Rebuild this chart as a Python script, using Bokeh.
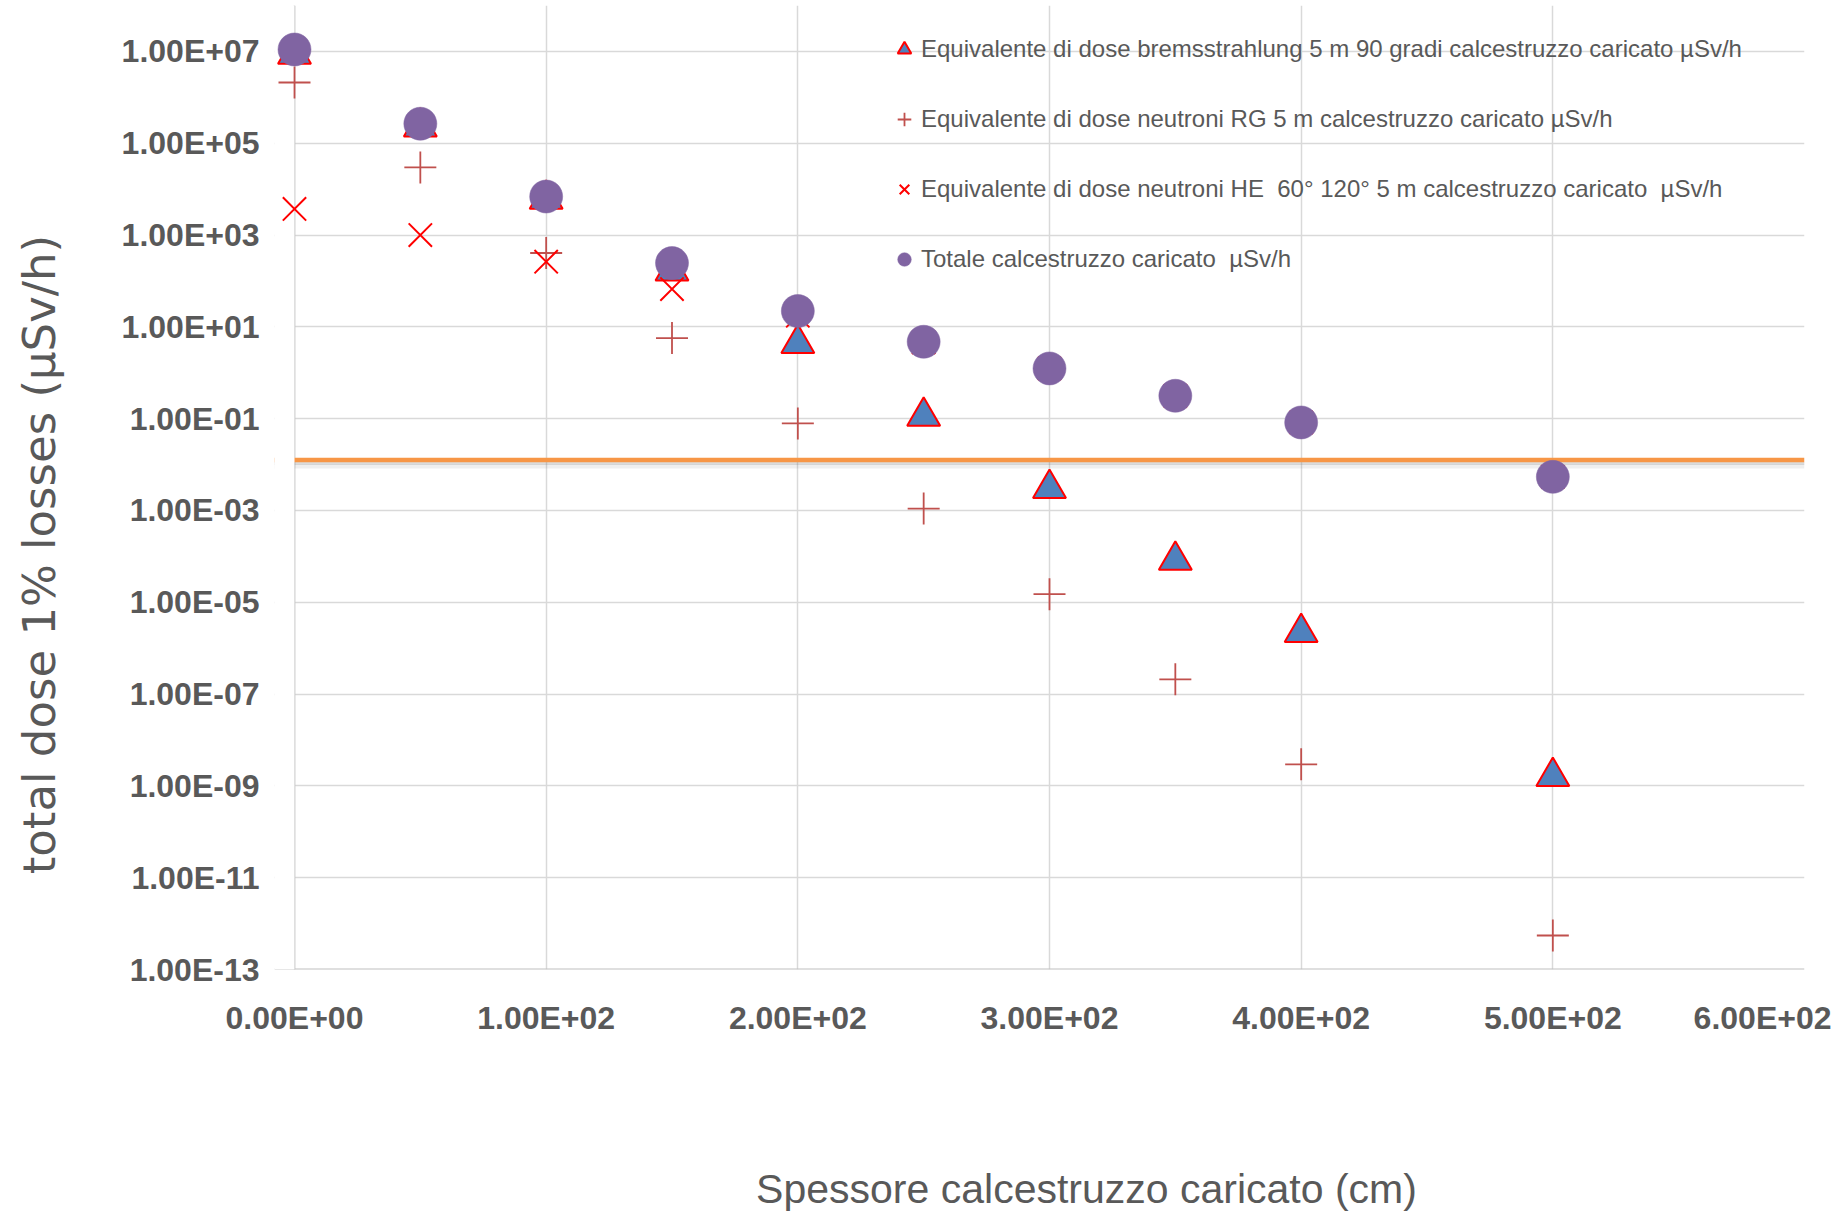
import math
from bokeh.plotting import figure
from bokeh.layouts import row, column
from bokeh.models import (FixedTicker, Legend, LegendItem, Span, Label, BoxAnnotation, Range1d)
from bokeh.embed import file_html
from bokeh.resources import INLINE

# ---------------- data ----------------
spessore_cm = [0, 50, 100, 150, 200, 250, 300, 350, 400, 500]
bremsstrahlung = [8.7e6, 2.26e5, 6.0e3, 1.65e2, 4.33, 1.13e-1, 3.0e-3, 8.2e-5, 2.2e-6, 1.6e-9]
neutroni_rg = [2.1e6, 2.97e4, 4.06e2, 5.7, 7.85e-2, 1.1e-3, 1.5e-5, 2.1e-7, 2.95e-9, 5.5e-13]
neutroni_he = [3.7e3, 1.0e3, 2.62e2, 6.67e1, 1.75e1, 4.6, 1.24, 3.15e-1, 8.26e-2, 5.4e-3]
totale = [1.1e7, 2.66e5, 6.9e3, 2.45e2, 2.21e1, 4.73, 1.24, 3.15e-1, 8.26e-2, 5.4e-3]
limite = 1.25e-2

series_names = [
    "Equivalente di dose bremsstrahlung 5 m 90 gradi calcestruzzo caricato \u00b5Sv/h",
    "Equivalente di dose neutroni RG 5 m calcestruzzo caricato \u00b5Sv/h",
    "Equivalente di dose neutroni HE  60\u00b0 120\u00b0 5 m calcestruzzo caricato  \u00b5Sv/h",
    "Totale calcestruzzo caricato  \u00b5Sv/h",
]

x_ticks = [0, 100, 200, 300, 400, 500, 600]
x_tick_labels = ["0.00E+00", "1.00E+02", "2.00E+02", "3.00E+02", "4.00E+02", "5.00E+02", "6.00E+02"]
y_ticks = [1e-13, 1e-11, 1e-9, 1e-7, 1e-5, 1e-3, 1e-1, 1e1, 1e3, 1e5, 1e7]
y_tick_labels = ["1.00E-13", "1.00E-11", "1.00E-09", "1.00E-07", "1.00E-05", "1.00E-03",
                 "1.00E-01", "1.00E+01", "1.00E+03", "1.00E+05", "1.00E+07"]

x_title = "Spessore calcestruzzo caricato (cm)"
y_title = "total dose  1% losses (\u00b5Sv/h)"

# ---------------- geometry (pixels) ----------------
TOTAL_W, TOTAL_H = 1831, 1211
LEFT_W = 70              # strip holding the y title
MAIN_H = 1140            # main figure height; below it the strip with the x title
FRAME_L, FRAME_R, FRAME_T, FRAME_B = 274, 1804, 5, 969
AXIS_X0 = 294            # pixel position of x = 0
x_lo = -(AXIS_X0 - FRAME_L) * 600.0 / (FRAME_R - AXIS_X0)

grid_col = "#D9D9D9"
axis_col = "#BFBFBF"
text_col = "#595959"

# ---------------- main figure ----------------
p = figure(width=TOTAL_W - LEFT_W, height=MAIN_H,
           x_range=Range1d(x_lo, 600), y_range=Range1d(1e-13, 1e8),
           y_axis_type="log", output_backend="svg", toolbar_location=None,
           min_border_left=FRAME_L - LEFT_W, min_border_right=TOTAL_W - FRAME_R,
           min_border_top=FRAME_T, min_border_bottom=MAIN_H - FRAME_B)
p.outline_line_color = None
p.background_fill_color = "white"
p.border_fill_color = "white"

p.xaxis.ticker = FixedTicker(ticks=x_ticks)
p.yaxis.ticker = FixedTicker(ticks=y_ticks)
p.xgrid.ticker = FixedTicker(ticks=x_ticks)
p.ygrid.ticker = FixedTicker(ticks=y_ticks)
p.xaxis.major_label_overrides = dict(zip(x_ticks, x_tick_labels))
p.yaxis.major_label_overrides = dict(zip(y_ticks, y_tick_labels))

for ax in (p.xaxis, p.yaxis):
    ax.major_tick_line_color = None
    ax.minor_tick_line_color = None
    ax.axis_line_color = None
    ax.major_label_text_font = "Liberation Sans"
    ax.major_label_text_font_style = "bold"
    ax.major_label_text_font_size = "32px"
    ax.major_label_text_color = text_col
p.xaxis.major_label_standoff = 24
p.yaxis.major_label_standoff = 9

for g in (p.xgrid, p.ygrid):
    g.grid_line_color = grid_col
    g.grid_line_width = 1.5

# axis lines at x = 0 and at the bottom
p.add_layout(Span(location=0, dimension="height", line_color=axis_col, line_width=1.5, level="underlay"))
p.add_layout(Span(location=y_ticks[0], dimension="width", line_color=axis_col, line_width=2, level="underlay"))

# threshold line with soft shadow
px_per_decade = (FRAME_B - FRAME_T) / 21.0
for off, alpha, lw in [(3.5, 0.28, 3), (6.5, 0.12, 4)]:
    p.add_layout(Span(location=limite * 10 ** (-off / px_per_decade), dimension="width",
                      line_color="#7F7F7F", line_alpha=alpha, line_width=lw, level="underlay"))
p.add_layout(Span(location=limite, dimension="width", line_color="#F79646", line_width=4.5,
                  level="underlay"))

# white mask left of x = 0 (keeps grid lines starting at the axis)
p.add_layout(BoxAnnotation(right=0, fill_color="white", fill_alpha=1.0, line_color=None,
                           level="underlay"))

# ---------------- series ----------------
r_tri = p.scatter(spessore_cm, bremsstrahlung, marker="triangle", size=33,
                  fill_color="#4F81BD", line_color="#FF0000", line_width=2)
r_plus = p.scatter(spessore_cm, neutroni_rg, marker="cross", size=32,
                   fill_color=None, line_color="#C0504D", line_width=1.8)
r_x = p.scatter(spessore_cm, neutroni_he, marker="x", size=33,
                fill_color=None, line_color="#FF0000", line_width=2)
r_tot = p.scatter(spessore_cm, totale, marker="circle", size=33,
                  fill_color="#8064A2", line_color="#8064A2", line_width=0.5)

# ---------------- legend ----------------
legend = Legend(items=[LegendItem(label=series_names[0], renderers=[r_tri]),
                       LegendItem(label=series_names[1], renderers=[r_plus]),
                       LegendItem(label=series_names[2], renderers=[r_x]),
                       LegendItem(label=series_names[3], renderers=[r_tot])],
                location=(613, 693))
legend.glyph_width = 34
legend.glyph_height = 34
legend.label_height = 34
legend.spacing = 36
legend.padding = 0
legend.margin = 0
legend.label_standoff = 0
legend.border_line_color = None
legend.background_fill_alpha = 0
legend.label_text_font = "Liberation Sans"
legend.label_text_font_size = "24px"
legend.label_text_color = text_col
p.add_layout(legend)


def strip(w, h):
    f = figure(width=w, height=h, output_backend="svg", toolbar_location=None,
               x_axis_location=None, y_axis_location=None,
               min_border=0, x_range=(0, 1), y_range=(0, 1))
    f.outline_line_color = None
    f.grid.visible = False
    f.background_fill_color = "white"
    f.border_fill_color = "white"
    return f


# ---------------- y title strip ----------------
left_fig = strip(LEFT_W, TOTAL_H)
left_fig.add_layout(Label(x=39, y=664, x_units="screen", y_units="screen",
                          text=y_title, angle=math.pi / 2,
                          text_align="center", text_baseline="middle",
                          text_font="DejaVu Sans", text_font_size="45px",
                          text_color=text_col))

# ---------------- x title strip ----------------
bottom_fig = strip(TOTAL_W - LEFT_W, TOTAL_H - MAIN_H)
bottom_fig.add_layout(Label(x=812, y=TOTAL_H - 1188, x_units="screen", y_units="screen",
                            text=x_title, text_align="center", text_baseline="middle",
                            text_font="Liberation Sans", text_font_size="41px",
                            text_color=text_col))

layout = row(left_fig, column(p, bottom_fig, spacing=0), spacing=0)
open("out.html", "w").write(file_html(layout, INLINE))
